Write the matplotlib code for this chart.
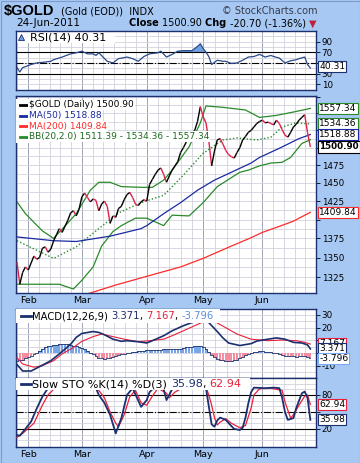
import matplotlib
matplotlib.use('Agg')
import matplotlib.pyplot as plt
import numpy as np
import pandas as pd
from matplotlib.collections import LineCollection
from matplotlib.ticker import FixedLocator, NullFormatter, FuncFormatter
from matplotlib.patches import Rectangle

# trading days shown (EOD gold)
days = pd.bdate_range('2011-01-26', '2011-06-24')
days = days.drop(pd.to_datetime(['2011-02-21', '2011-04-22', '2011-05-30']))

# daily closes
close = [1344, 1316, 1331, 1338, 1334, 1343, 1352, 1348, 1350, 1362,
         1364, 1357, 1361, 1372, 1380, 1388, 1383, 1391, 1399, 1409,
         1412, 1405, 1414, 1431, 1436, 1430, 1424, 1428, 1426, 1412,
         1421, 1425, 1418, 1395, 1405, 1403, 1415, 1418, 1427, 1434,
         1437, 1430, 1421, 1419, 1424, 1427, 1425, 1448, 1455, 1462,
         1468, 1471, 1462, 1451, 1460, 1468, 1474, 1480, 1493, 1500,
         1508, 1513, 1520, 1525, 1538, 1560, 1545, 1536, 1510, 1474,
         1495, 1511, 1513, 1505, 1496, 1490, 1487, 1485, 1493, 1500,
         1511, 1516, 1522, 1525, 1530, 1535, 1538, 1540, 1536, 1537,
         1535, 1533, 1540, 1535, 1526, 1518, 1515, 1522, 1530, 1534,
         1540, 1544, 1548, 1521.6, 1500.9]

# overlays, read at sample days (index into days)
ma50_i = [0, 13, 21, 33, 44, 46, 52, 58, 64, 70, 76, 83, 86, 93, 100, 104]
ma50_v = [1377, 1372, 1371, 1378, 1388, 1392, 1408, 1423, 1440, 1454, 1465, 1478, 1486, 1499, 1513, 1518.88]
ma200_i = [0, 10, 20, 26, 35, 44, 52, 58, 66, 76, 83, 87, 93, 98, 104]
ma200_v = [1282, 1291, 1299, 1305, 1315, 1324, 1332, 1338, 1349, 1365, 1376, 1383, 1391, 1398, 1409.84]
bbm_i = [0, 13, 21, 28, 36, 44, 52, 59, 66, 73, 78, 85, 90, 94, 99, 104]
bbm_v = [1372, 1349, 1364, 1385, 1409, 1423, 1433, 1461, 1492, 1511, 1514, 1511, 1515, 1530, 1536, 1534.36]
bbu_i = [0, 3, 9, 13, 21, 26, 29, 33, 37, 44, 48, 52, 55, 61, 65, 67, 73, 81, 86, 92, 98, 104]
bbu_v = [1424, 1408, 1385, 1375, 1408, 1440, 1451, 1451, 1445, 1444, 1444, 1454, 1468, 1501, 1536,
         1561, 1559, 1555, 1544, 1547, 1552, 1557.34]
bbl_i = [0, 9, 15, 20, 23, 27, 30, 34, 37, 42, 46, 52, 55, 61, 66, 71, 79, 82, 86, 90, 94, 97, 101, 104]
bbl_v = [1316, 1316, 1316, 1310, 1321, 1338, 1365, 1384, 1392, 1402, 1402, 1392, 1406, 1405, 1423,
         1445, 1465, 1468, 1474, 1478, 1479, 1486, 1506, 1511.39]

rsi_i = [0, 1, 2, 5, 7, 9, 12, 13, 16, 19, 21, 23, 25, 27, 28, 29, 32, 34, 36, 39, 41, 43, 45, 47,
         50, 51, 53, 55, 57, 59, 62, 64, 65, 66, 67, 68, 69, 71, 73, 74, 76, 78, 80, 82, 84, 86,
         88, 90, 91, 93, 95, 97, 99, 100, 102, 103, 104]
rsi_v = [41, 33, 41, 47, 50, 51, 53, 56, 61, 67, 69, 72, 67, 67, 64, 69, 53, 50, 58, 61, 58, 53, 62, 67,
         69, 72, 61, 66, 72, 73, 73, 81, 86, 77, 70, 62, 47, 55, 53, 53, 49, 50, 55, 61, 62, 66,
         61, 64, 62, 59, 50, 54, 56, 58, 61, 47, 40.31]

macd_i = [0, 2, 5, 8, 12, 15, 19, 21, 23, 27, 29, 31, 34, 37, 39, 43, 46, 48, 52, 55, 59, 62, 66,
          68, 71, 73, 75, 79, 83, 85, 89, 92, 95, 98, 101, 103, 104]
macd_v = [-9, -14, -14, -10.6, -5.9, -0.6, 7, 12.4, 15.5, 17, 16.3, 14.5, 11, 9.3, 9.8, 9, 8, 9.8,
          13.7, 17.6, 21.6, 24, 26.5, 24, 17, 12, 8, 6, 7.5, 9.5, 11, 12, 11, 8.5, 8, 6.5, 3.371]
sig_i = [0, 2, 6, 9, 13, 16, 20, 23, 27, 30, 34, 38, 43, 47, 52, 55, 59, 63, 67, 70, 74, 78, 83,
         89, 94, 99, 102, 104]
sig_v = [-3.5, -8.5, -11, -9.8, -5.9, -0.6, 4.5, 9.3, 13, 15, 13, 11, 9, 9.8, 11, 13.7, 17.6, 21.6,
         25.5, 25, 20, 15, 11, 9.8, 10.3, 9.8, 8.5, 7.167]
hist = [-6, -5.5, -5, -4, -3, -2, -1, 0.5, 2, 3.5,
        4.5, 5.5, 6, 6.5, 6.5, 7, 7, 7.2, 7, 6.5,
        6, 5.5, 5, 4, 3, 2, 0.5, -1, -2.5, -3.5,
        -4, -4.5, -4, -3.5, -3, -2, -1.5, -1, -0.5, 0,
        0.5, 1, 1, 1.5, 1.5, 2, 2.5, 2.5, 2.5, 2.5,
        2.5, 2.5, 3, 3, 3, 3.2, 3.3, 3.5, 3.5, 4,
        4.5, 4.5, 5, 5.5, 6, 5.9, 5, 3, 1, -1.5,
        -3, -4.5, -5, -5.5, -6.4, -6.4, -6, -5.5, -5, -4,
        -3, -1.5, -0.5, 0.5, 1, 1.2, 1.4, 1.4, 1.2, 1,
        0.8, 0.5, 0.2, -0.5, -1.2, -2, -2.3, -2.2, -2.5, -2.7,
        -2.5, -2.2, -2.0, -2.8, -3.796]

stk_i = [0, 1, 3, 5, 7, 9, 11, 13, 16, 19, 22, 24, 26, 28, 29, 31, 33, 35, 37, 39, 41, 43, 44, 46,
         47, 49, 52, 53, 55, 58, 62, 65, 67, 68, 69, 70, 71, 72, 74, 76, 77, 79, 80, 81, 82, 83,
         84, 88, 91, 93, 94, 95, 96, 98, 99, 101, 102, 103, 104]
stk_v = [9, 8, 20, 33, 56, 77, 92, 95, 93, 97, 96, 95, 90, 92, 80, 66, 45, 12, 39, 80, 92, 70, 59, 71,
         85, 95, 90, 71, 90, 97, 98, 98, 92, 60, 28, 24, 35, 40, 36, 25, 20, 18, 22, 40, 65, 85,
         93, 92, 93, 92, 75, 50, 36, 39, 57, 83, 86, 75, 35.98]
std_i = [0, 2, 6, 9, 11, 13, 16, 20, 24, 27, 29, 31, 33, 35, 36, 38, 40, 42, 44, 46, 48, 50, 53, 54,
         56, 60, 64, 67, 68, 69, 70, 71, 72, 74, 76, 79, 81, 83, 84, 86, 90, 94, 95, 97, 98, 100,
         102, 103, 104]
std_v = [5, 12, 30, 62, 80, 90, 94, 95, 95, 92, 88, 75, 50, 30, 24, 45, 77, 88, 66, 62, 78, 92, 83, 75,
         85, 96, 98, 94, 80, 62, 40, 27, 32, 38, 30, 22, 26, 57, 80, 91, 92, 88, 68, 39, 45, 62,
         78, 80, 62.94]

legend_txt = ['$GOLD (Daily) 1500.90', 'MA(50) 1518.88', 'MA(200) 1409.84',
              'BB(20,2.0) 1511.39 - 1534.36 - 1557.34']

NAVY = '#1c2f6e'
BG = '#a6c8f2'
GRID = '#d2d2de'
GREEN = '#2a8a2a'
RED = '#e8203c'

plt.rcParams['font.family'] = 'DejaVu Sans'
fig = plt.figure(figsize=(3.6, 4.63), dpi=100, facecolor=BG)


def panel(top, bot):
    a = fig.add_axes([16 / 360, 1 - bot / 463, 300 / 360, (bot - top) / 463])
    a.set_facecolor('white')
    for s in a.spines.values():
        s.set_color(NAVY)
        s.set_linewidth(1.0)
    a.yaxis.tick_right()
    a.tick_params(axis='y', labelsize=6.3, colors='black', length=3, width=0.6, pad=1)
    a.tick_params(axis='x', which='both', length=0, labelsize=6.8, pad=2)
    a.set_axisbelow(True)
    return a


def shown(keep):
    return FuncFormatter(lambda v, p: ('%d' % round(v)) if round(v) in keep else '')


n = len(close)
x = np.arange(n)
month_idx = [i for i in range(1, n) if days[i].month != days[i - 1].month]
month_lbl = [days[i].strftime('%b') for i in month_idx]
minor = []
bounds = month_idx + [month_idx[-1] + 19]
for a, b in zip(bounds[:-1], bounds[1:]):
    k = max(1, round((b - a) / 3.9))
    minor += list(np.linspace(a, b, k + 1)[1:-1])
minor += [month_idx[0] - 3.9]
xl = (-0.35, 106.0)

ax_r = panel(31, 90)
ax_p = panel(96, 293)
ax_m = panel(309, 378)
ax_s = panel(378, 447)

for a in (ax_r, ax_p, ax_m, ax_s):
    a.set_xlim(*xl)
    a.xaxis.set_major_locator(FixedLocator(month_idx))
    a.xaxis.set_minor_locator(FixedLocator(minor))
    a.grid(True, which='minor', axis='x', color=GRID, lw=0.6)
    a.grid(True, which='major', axis='x', color='#a0a4b4', lw=0.7)
    a.grid(True, which='both', axis='y', color=GRID, lw=0.6)
    a.set_xticklabels([])

ax_p.set_xticklabels(month_lbl)
ax_s.set_xticklabels(month_lbl)


def chain(ax, x0, y0, parts, size=7, transform=None):
    s, c, w = parts[0]
    t = ax.text(x0, y0, s, color=c, fontsize=size, fontweight=w, va='center',
                transform=transform or ax.transAxes, zorder=5)
    for s, c, w in parts[1:]:
        t = ax.annotate(s, xy=(1, 0), xycoords=t, color=c, fontsize=size, fontweight=w,
                        va='bottom', ha='left', zorder=5)
    return t


def tag(ax, val, s, ec, bold=False):
    ax.annotate(s, xy=(1, val), xycoords=ax.get_yaxis_transform(), xytext=(2.2, 0),
                textcoords='offset points', va='center', ha='left',
                fontsize=6.3 if bold else 6.6,
                fontweight='bold' if bold else 'normal', color='black', zorder=6,
                bbox=dict(boxstyle='square,pad=0.12', fc='white', ec=ec, lw=0.8),
                annotation_clip=False)


# ---- RSI
ax_r.set_ylim(-1, 110)
ax_r.yaxis.set_major_locator(FixedLocator([10, 30, 50, 70, 90]))
ax_r.yaxis.set_major_formatter(shown([10, 30, 70, 90]))
ax_r.yaxis.set_minor_locator(FixedLocator([20, 40, 60, 80, 100]))
ax_r.tick_params(axis='y', which='minor', length=0)
ax_r.axhline(70, color='black', lw=0.8)
ax_r.axhline(30, color='black', lw=0.8)
ax_r.axhline(50, color='black', lw=0.8, ls='-.')
rv = np.array(rsi_v, dtype=float)
ax_r.fill_between(rsi_i, rv, 70, where=rv > 70, interpolate=True, color='#6f9fe0', lw=0)
ax_r.plot(rsi_i, rsi_v, color='#2a4a8a', lw=0.9)
ax_r.add_patch(Rectangle((0, 0.79), 0.33, 0.21, transform=ax_r.transAxes, fc='white', ec='none', zorder=2))
ax_r.plot([0.018], [0.895], marker='^', ms=5, mfc='#6f9fe0', mec=NAVY, mew=0.6,
          transform=ax_r.transAxes, zorder=3)
ax_r.text(0.045, 0.895, 'RSI(14) 40.31', transform=ax_r.transAxes, fontsize=8, va='center', zorder=3)
tag(ax_r, 42.5, '40.31', NAVY)

# ---- price
ax_p.set_yscale('log')
ax_p.set_ylim(1305, 1576)
ax_p.yaxis.set_major_locator(FixedLocator(list(range(1325, 1576, 25))))
ax_p.yaxis.set_minor_locator(FixedLocator(list(np.arange(1312.5, 1576, 25))))
ax_p.yaxis.set_major_formatter(shown([1325, 1350, 1375, 1425, 1450, 1475]))
ax_p.yaxis.set_minor_formatter(NullFormatter())
ax_p.tick_params(axis='y', which='minor', length=0)

ax_p.plot(bbu_i, bbu_v, color=GREEN, lw=0.9)
ax_p.plot(bbl_i, bbl_v, color=GREEN, lw=0.9)
ax_p.plot(bbm_i, bbm_v, color=GREEN, lw=1.0, ls=(0, (1, 1.5)))
ax_p.plot(ma50_i, ma50_v, color='#1a2aa0', lw=0.9)
ax_p.plot(ma200_i, ma200_v, color='#ff2a2a', lw=0.9)
pts = np.column_stack([x, close])
segs = np.stack([pts[:-1], pts[1:]], axis=1)
cols = ['black' if close[i + 1] >= close[i] else '#e0204a' for i in range(n - 1)]
ax_p.add_collection(LineCollection(segs, colors=cols, lw=1.0, zorder=4))

# legend rows, each with its own white background
for k, (s, c, tc) in enumerate(zip(legend_txt, ['black', '#1a2aa0', '#ff2a2a', GREEN],
                                   ['black', '#1a2aa0', '#ff2a2a', '#1f6a1f'])):
    yy = (293 - (105 + 10.6 * k)) / 197
    ax_p.add_patch(Rectangle((0, yy - 0.03), 0.045, 0.06, transform=ax_p.transAxes,
                             fc='white', ec='none', zorder=5))
    ax_p.plot([0.012, 0.04], [yy, yy], color=c, lw=2, transform=ax_p.transAxes, zorder=6)
    ax_p.text(0.043, yy, s, color=tc, fontsize=6.5, va='center', transform=ax_p.transAxes,
              zorder=6, bbox=dict(boxstyle='square,pad=0.1', fc='white', ec='none'))

tag(ax_p, 1557.34, '1557.34', GREEN)
tag(ax_p, 1534.36, '1534.36', GREEN)
tag(ax_p, 1518.88, '1518.88', '#1a2aa0')
tag(ax_p, 1500.90, '1500.90', 'black', bold=True)
tag(ax_p, 1409.84, '1409.84', '#ff2a2a')

# ---- MACD
ax_m.set_ylim(-19.5, 34.7)
ax_m.yaxis.set_major_locator(FixedLocator([-10, 0, 10, 20, 30]))
ax_m.yaxis.set_major_formatter(shown([-10, 20, 30]))
ax_m.yaxis.set_minor_locator(FixedLocator([-15, -5, 5, 15, 25]))
ax_m.tick_params(axis='y', which='minor', length=0)
hv = np.array(hist)
ax_m.bar(x, hv, width=0.75, color=np.where(hv >= 0, '#78a6e6', '#f28ea0'), lw=0, zorder=2)
ax_m.plot(x, hv, drawstyle='steps-mid', color=NAVY, lw=0.6, zorder=2)
ax_m.plot(sig_i, sig_v, color=RED, lw=0.8, zorder=3)
ax_m.plot(macd_i, macd_v, color=NAVY, lw=1.2, zorder=3)
ax_m.add_patch(Rectangle((0, 0.79), 0.68, 0.21, transform=ax_m.transAxes, fc='white', ec='none', zorder=3.5))
ax_m.plot([0.018, 0.05], [0.895, 0.895], color=NAVY, lw=2, transform=ax_m.transAxes, zorder=4)
chain(ax_m, 0.055, 0.895, [('MACD(12,26,9) ', 'black', 'normal'), ('3.371', NAVY, 'normal'),
                           (', ', 'black', 'normal'), ('7.167', RED, 'normal'),
                           (', ', 'black', 'normal'), ('-3.796', '#5a8ee0', 'normal')], size=7.2)
tag(ax_m, 7.8, '7.167', RED)
tag(ax_m, 3.371, '3.371', NAVY)
tag(ax_m, -4.2, '-3.796', '#7aaaf0')

# ---- Slow stochastic
ax_s.set_ylim(-12, 110)
ax_s.yaxis.set_major_locator(FixedLocator([20, 50, 80]))
ax_s.yaxis.set_major_formatter(shown([20, 80]))
ax_s.yaxis.set_minor_locator(FixedLocator([0, 10, 30, 40, 60, 70, 90, 100]))
ax_s.tick_params(axis='y', which='minor', length=0)
ax_s.axhline(80, color='black', lw=0.8)
ax_s.axhline(20, color='black', lw=0.8)
ax_s.axhline(50, color='black', lw=0.8, ls='-.')
ax_s.plot(std_i, std_v, color=RED, lw=0.9, zorder=3)
ax_s.plot(stk_i, stk_v, color=NAVY, lw=1.3, zorder=3)
ax_s.add_patch(Rectangle((0, 0.82), 0.78, 0.18, transform=ax_s.transAxes, fc='white', ec='none', zorder=3.5))
ax_s.plot([0.018, 0.05], [0.91, 0.91], color=NAVY, lw=2, transform=ax_s.transAxes, zorder=4)
chain(ax_s, 0.055, 0.91, [('Slow STO %K(14) %D(3) ', 'black', 'normal'), ('35.98', NAVY, 'normal'),
                          (', ', 'black', 'normal'), ('62.94', RED, 'normal')], size=8)
tag(ax_s, 62.94, '62.94', RED)
tag(ax_s, 35.98, '35.98', NAVY)

# ---- header
hd = fig.add_axes([0, 0, 1, 1], facecolor='none', frameon=False)
hd.set_xticks([])
hd.set_yticks([])
hd.text(4 / 360, 1 - 11 / 463, '$GOLD', fontsize=10.5, fontweight='bold', va='center',
        family='Liberation Sans')
hd.text(61 / 360, 1 - 11 / 463, '(Gold (EOD))  INDX', fontsize=7, va='center')
hd.text(317 / 360, 1 - 11 / 463, '\u00a9 StockCharts.com', fontsize=7, va='center', ha='right',
        color='#3a3a4a')
hd.text(16 / 360, 1 - 23.5 / 463, '24-Jun-2011', fontsize=7.5, va='center')
chain(hd, 129 / 360, 1 - 23.5 / 463,
      [('Close ', 'black', 'bold'), ('1500.90 ', 'black', 'normal'), ('Chg ', 'black', 'bold'),
       ('-20.70 (-1.36%) ', 'black', 'normal'), ('\u25bc', '#c0203a', 'normal')], size=7)
hd.add_patch(Rectangle((0.5 / 360, 0.5 / 463), 359 / 360, 462 / 463, transform=hd.transAxes,
                       fill=False, ec='#7d9ccc', lw=0.8))

fig.savefig('out.png', dpi=100, facecolor=BG)
